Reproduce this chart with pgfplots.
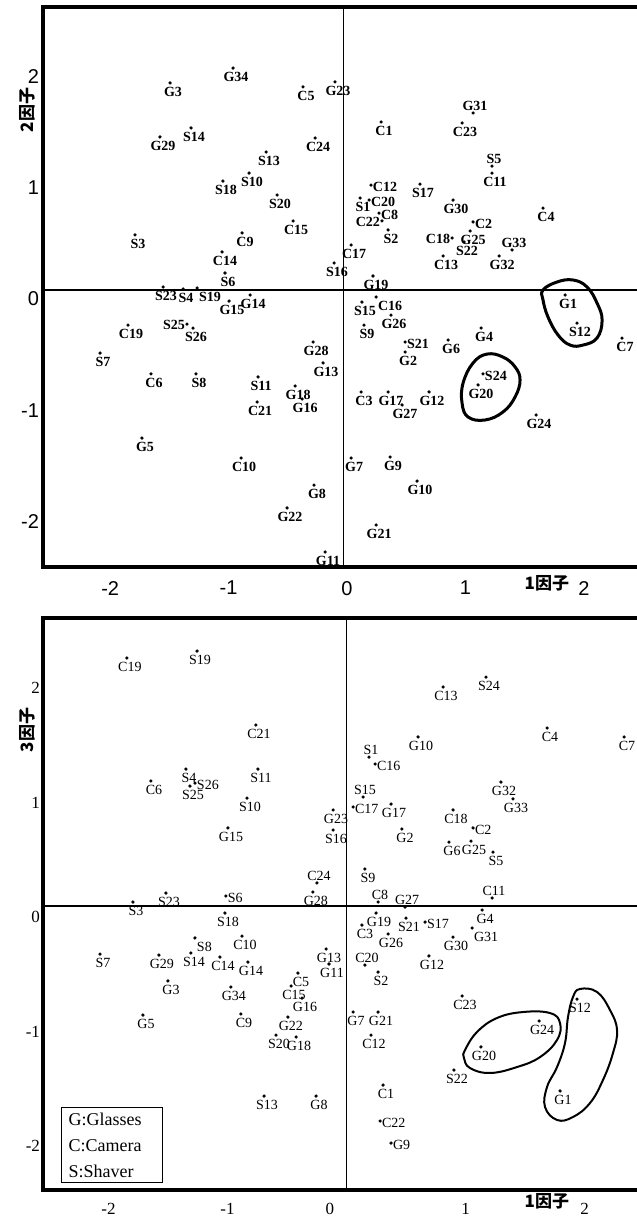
\documentclass[border=0pt]{standalone}
\usepackage{fontspec}
\setmainfont{Liberation Serif}
\newfontfamily\sansf{Liberation Sans}
\newfontfamily\cjk{Noto Sans CJK SC}
\usepackage{pgfplots}
\pgfplotsset{compat=1.18}
\pgfplotsset{
 lab/.style={only marks, mark=*, mark size=0.6pt, black, nodes near coords, point meta=explicit symbolic},
 labd/.style={lab, every node near coord/.append style={anchor=center, xshift=1.5pt, yshift=-4.5pt, inner sep=0.3pt}},
 labr/.style={lab, every node near coord/.append style={anchor=west, xshift=0.5pt, yshift=-1pt, inner sep=0.3pt}},
 labrd/.style={lab, every node near coord/.append style={anchor=west, xshift=0.5pt, yshift=-4.5pt, inner sep=0.3pt}},
 labu/.style={lab, every node near coord/.append style={anchor=center, xshift=1pt, yshift=3.5pt, inner sep=0.3pt}},
 labl/.style={lab, every node near coord/.append style={anchor=east, xshift=-0.5pt, yshift=-0.5pt, inner sep=0.3pt}},
}
\begin{document}
\begin{tikzpicture}
\useasboundingbox (0,0) rectangle (318.5pt,-608pt);
% ---------------- top panel: factor 1 vs factor 2
\begin{axis}[
 at={(21.5pt,-3.5pt)}, anchor=north west,
 scale only axis, width=298.5pt, height=280pt,
 xmin=-2.534, xmax=2.508, ymin=-2.491, ymax=2.545,
 axis line style={line width=1.6pt},
 major tick length=0pt, tick style={draw=none},
 xtick={-2,-1,0,1,2}, xticklabels={-2,-1,0,1,2},
 ytick={-2,-1,0,1,2}, yticklabels={-2,-1,0,1,2},
 ticklabel style={font=\sansf\fontsize{10}{10}\selectfont},
 xticklabel style={xshift=2pt, yshift=-3.5pt},
 yticklabel style={yshift=-4.5pt, xshift=1.5pt},
 xlabel={\cjk\bfseries 1因子},
 xlabel style={at={(axis description cs:0.844,-0.0286)}, anchor=center, font=\fontsize{8.5}{8.5}\selectfont},
 ylabel={\cjk\bfseries 2因子},
 ylabel style={at={(axis description cs:-0.027,0.816)}, anchor=center, font=\fontsize{8.5}{8.5}\selectfont},
 every node near coord/.append style={font=\bfseries\fontsize{7}{7}\selectfont},
]
\addplot[black, line width=0.5pt] coordinates {(0,-2.491) (0,2.545)};
\addplot[black, line width=0.9pt] coordinates {(-2.534,0) (2.508,0)};
\addplot[labd] table[x=x, y=y, meta=l] {
x y l
-1.461 1.862 G3
-0.929 1.996 G34
-0.338 1.826 C5
-1.284 1.457 S14
-1.546 1.376 G29
-0.236 1.367 C24
-0.650 1.241 S13
-0.794 1.052 S10
-1.014 0.980 S18
-0.557 0.854 S20
-0.422 0.621 C15
-1.757 0.495 S3
-0.853 0.513 C9
-1.022 0.342 C14
-0.997 0.153 S6
-1.520 0.027 S23
-1.351 0.009 S4
-0.963 -0.099 G15
-0.785 -0.045 G14
-1.267 -0.342 S26
-1.816 -0.315 C19
-2.052 -0.567 S7
-1.622 -0.755 C6
-1.242 -0.755 S8
-0.718 -0.782 S11
-0.726 -1.007 C21
-0.405 -0.863 G18
-0.346 -0.980 G16
-0.253 -0.468 G28
-0.169 -0.656 G13
-1.698 -1.331 G5
-0.861 -1.511 C10
-0.245 -1.754 G8
-0.473 -1.960 G22
-0.152 -2.356 G11
-0.068 1.871 G23
0.321 1.511 C1
1.005 1.502 C23
1.258 1.052 C11
0.650 0.953 S17
0.144 0.827 S1
0.380 0.540 S2
0.929 0.809 G30
1.689 0.737 C4
1.073 0.531 G25
1.022 0.432 S22
1.318 0.306 G32
0.845 0.306 C13
0.068 0.405 C17
-0.076 0.243 S16
0.253 0.126 G19
1.875 -0.045 G1
1.976 -0.297 S12
2.356 -0.432 C7
0.160 -0.108 S15
0.405 -0.225 G26
0.177 -0.315 S9
0.524 -0.558 G2
0.887 -0.450 G6
1.166 -0.342 G4
1.140 -0.854 G20
0.152 -0.917 C3
0.380 -0.917 G17
0.498 -1.034 G27
0.726 -0.917 G12
1.630 -1.124 G24
0.068 -1.511 G7
0.397 -1.502 G9
0.625 -1.718 G10
0.279 -2.113 G21
};
\addplot[labr] table[x=x, y=y, meta=l] {
x y l
0.236 0.944 C12
0.220 0.809 C20
0.304 0.692 C8
1.098 0.612 C2
0.524 -0.468 S21
1.182 -0.755 S24
};
\addplot[labrd] table[x=x, y=y, meta=l] {
x y l
-1.233 0.018 S19
0.279 -0.063 C16
};
\addplot[labu] table[x=x, y=y, meta=l] {
x y l
1.098 1.592 G31
1.258 1.115 S5
1.427 0.360 G33
};
\addplot[labl] table[x=x, y=y, meta=l] {
x y l
0.329 0.621 C22
-1.318 -0.306 S25
0.921 0.468 C18
};
\draw[line width=1.5pt] plot[smooth cycle, tension=0.7] coordinates {(axis cs:1.689,0) (axis cs:1.807,0.072) (axis cs:1.943,0.090) (axis cs:2.061,0.027) (axis cs:2.145,-0.117) (axis cs:2.188,-0.270) (axis cs:2.145,-0.432) (axis cs:2.027,-0.495) (axis cs:1.917,-0.495) (axis cs:1.816,-0.405) (axis cs:1.731,-0.243) (axis cs:1.689,-0.090)};
\draw[line width=1.5pt] plot[smooth cycle, tension=0.7] coordinates {(axis cs:1.216,-0.576) (axis cs:1.351,-0.603) (axis cs:1.453,-0.692) (axis cs:1.495,-0.809) (axis cs:1.453,-0.962) (axis cs:1.351,-1.097) (axis cs:1.199,-1.169) (axis cs:1.056,-1.142) (axis cs:1.005,-1.016) (axis cs:1.014,-0.836) (axis cs:1.098,-0.656)};
\end{axis}
% ---------------- bottom panel: factor 1 vs factor 3
\begin{axis}[
 at={(21.5pt,-309pt)}, anchor=north west,
 scale only axis, width=298.5pt, height=286pt,
 xmin=-2.550, xmax=2.466, ymin=-2.478, ymax=2.513,
 axis line style={line width=1.6pt},
 major tick length=0pt, tick style={draw=none},
 xtick={-2,-1,-0.139,1,2}, xticklabels={-2,-1,0,1,2},
 ytick={-2,-1,0,1,2}, yticklabels={-2,-1,0,1,2},
 ticklabel style={font=\fontsize{8.5}{8.5}\selectfont},
 xticklabel style={yshift=-3pt},
 yticklabel style={yshift=-5.5pt, xshift=2pt},
 xlabel={\cjk\bfseries 1因子},
 xlabel style={at={(axis description cs:0.844,-0.019)}, anchor=center, font=\fontsize{8.5}{8.5}\selectfont},
 ylabel={\cjk\bfseries 3因子},
 ylabel style={at={(axis description cs:-0.027,0.804)}, anchor=center, font=\fontsize{8.5}{8.5}\selectfont},
 every node near coord/.append style={font=\fontsize{7}{7}\selectfont},
]
\addplot[black, line width=0.5pt] coordinates {(0,-2.478) (0,2.513)};
\addplot[black, line width=0.8pt] coordinates {(-2.550,0) (2.466,0)};
\addplot[labd] table[x=x, y=y, meta=l] {
x y l
1.794 -1.614 G1
0.466 0.672 G2
-1.500 -0.654 G3
1.139 -0.035 G4
-1.710 -0.951 G5
0.861 0.558 G6
0.055 -0.925 G7
-0.256 -1.658 G8
0.601 1.475 G10
-0.147 -0.506 G11
0.693 -0.436 G12
-0.172 -0.375 G13
-0.828 -0.489 G14
-0.996 0.681 G15
-0.374 -0.803 G16
0.374 0.890 G17
-0.424 -1.143 G18
0.248 -0.061 G19
1.130 -1.230 G20
0.265 -0.925 G21
-0.492 -0.969 G22
-0.113 0.838 G23
1.618 -1.003 G24
1.046 0.567 G25
0.349 -0.244 G26
-0.282 0.122 G28
-1.576 -0.428 G29
0.895 -0.271 G30
1.298 1.082 G32
1.399 0.934 G33
-0.971 -0.707 G34
0.307 -1.562 C1
0.130 -0.166 C3
1.685 1.553 C4
-0.408 -0.585 C5
-1.643 1.091 C6
2.332 1.475 C7
-0.887 -0.942 C9
-0.878 -0.262 C10
0.206 -1.126 C12
0.811 1.911 C13
-1.063 -0.445 C14
-0.466 -0.698 C15
0.895 0.838 C18
-1.845 2.164 C19
-0.761 1.579 C21
0.971 -0.785 C23
0.265 -0.576 S2
-1.794 0.035 S3
-1.349 1.195 S4
1.231 0.471 S5
-2.071 -0.419 S7
0.155 0.323 S9
-0.836 0.942 S10
-0.744 1.195 S11
1.937 -0.812 S12
-0.693 -1.658 S13
-1.307 -0.410 S14
-0.113 0.663 S16
-1.021 -0.061 S18
-1.256 2.225 S19
-0.592 -1.126 S20
0.500 -0.105 S21
0.903 -1.431 S22
-1.517 0.113 S23
1.172 1.998 S24
-1.315 1.047 S25
};
\addplot[labr] table[x=x, y=y, meta=l] {
x y l
1.063 0.681 C2
0.240 1.239 C16
0.055 0.864 C17
-1.013 0.087 S6
0.660 -0.140 S17
0.282 -1.876 C22
0.374 -2.068 G9
-1.273 1.073 S26
};
\addplot[labrd] table[x=x, y=y, meta=l] {
x y l
-1.273 -0.279 S8
1.055 -0.192 G31
};
\addplot[labu] table[x=x, y=y, meta=l] {
x y l
1.223 0.070 C11
0.155 -0.515 C20
-0.248 0.201 C24
0.189 1.300 S1
0.139 0.951 S15
0.492 -0.009 G27
0.265 0.035 C8
};
\draw[line width=1pt] plot[smooth cycle, tension=0.7] coordinates {(axis cs:0.996,-1.257) (axis cs:1.097,-1.099) (axis cs:1.265,-0.977) (axis cs:1.483,-0.925) (axis cs:1.710,-0.934) (axis cs:1.794,-1.021) (axis cs:1.769,-1.169) (axis cs:1.626,-1.318) (axis cs:1.433,-1.405) (axis cs:1.206,-1.457) (axis cs:1.038,-1.414) (axis cs:0.987,-1.326)};
\draw[line width=1pt] plot[smooth cycle, tension=0.7] coordinates {(axis cs:1.962,-0.724) (axis cs:2.105,-0.750) (axis cs:2.214,-0.908) (axis cs:2.273,-1.082) (axis cs:2.239,-1.283) (axis cs:2.155,-1.518) (axis cs:2.046,-1.719) (axis cs:1.903,-1.841) (axis cs:1.769,-1.867) (axis cs:1.668,-1.754) (axis cs:1.685,-1.579) (axis cs:1.769,-1.405) (axis cs:1.836,-1.195) (axis cs:1.861,-0.969) (axis cs:1.903,-0.794)};
\node[draw, line width=0.6pt, anchor=north west, align=left, text width=43.5pt, inner xsep=3.5pt, inner ysep=2.5pt, font=\fontsize{9}{13}\selectfont] at (axis cs:-2.399,-1.754) {G:Glasses\\C:Camera\\S:Shaver};
\end{axis}
\end{tikzpicture}
\end{document}
